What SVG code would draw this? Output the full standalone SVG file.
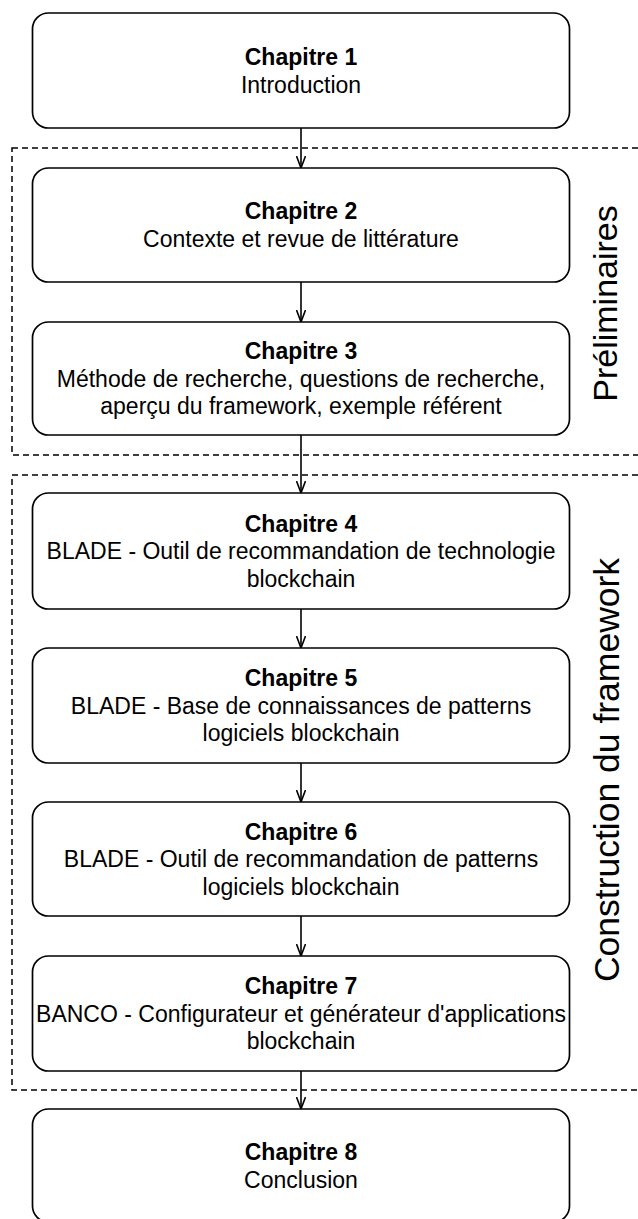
<svg xmlns="http://www.w3.org/2000/svg" width="638" height="1219" viewBox="0 0 638 1219">
<style>
.box{fill:#fff;stroke:#000;stroke-width:1.7}
.grp{fill:none;stroke:#000;stroke-width:1.5;stroke-dasharray:6 4}
.t{font-family:"Liberation Sans",Arial,sans-serif;font-size:23px;text-anchor:middle;fill:#000}
.b{font-weight:bold}
.side{font-family:"Liberation Sans",Arial,sans-serif;font-size:34px;text-anchor:middle;fill:#000}
.edge{fill:none;stroke:#000;stroke-width:1.6;marker-end:url(#arr)}
</style>
<defs>
<marker id="arr" viewBox="0 0 12 10" refX="12" refY="5" markerWidth="12" markerHeight="10" markerUnits="userSpaceOnUse" orient="auto">
<path d="M0,0.5 L12,5 L0,9.5" fill="none" stroke="#000" stroke-width="1.6"/>
</marker>
</defs>
<g id="groups">
<rect id="grp-preliminaires" class="grp" x="12" y="148" width="700" height="307"/>
<rect id="grp-construction" class="grp" x="12" y="475" width="700" height="615"/>
<text class="side" transform="translate(617,303.5) rotate(-90)">Préliminaires</text>
<text class="side" style="font-size:35.5px" transform="translate(619,770) rotate(-90)">Construction du framework</text>
</g>
<g id="ch1"><rect class="box" x="32.5" y="13" width="537" height="115" rx="16"/>
<text class="t b" x="301" y="65">Chapitre 1</text><text class="t" x="301" y="93">Introduction</text></g>
<g id="ch2"><rect class="box" x="32.5" y="168" width="537" height="114" rx="16"/>
<text class="t b" x="301" y="219">Chapitre 2</text><text class="t" x="301" y="247">Contexte et revue de littérature</text></g>
<g id="ch3"><rect class="box" x="32.5" y="322" width="537" height="113" rx="16"/>
<text class="t b" x="301" y="359">Chapitre 3</text><text class="t" x="301" y="386.5">Méthode de recherche, questions de recherche,</text><text class="t" x="301" y="414">aperçu du framework, exemple référent</text></g>
<g id="ch4"><rect class="box" x="32.5" y="493" width="537" height="116" rx="16"/>
<text class="t b" x="301" y="531.5">Chapitre 4</text><text class="t" x="301" y="559">BLADE - Outil de recommandation de technologie</text><text class="t" x="301" y="586.5">blockchain</text></g>
<g id="ch5"><rect class="box" x="32.5" y="648" width="537" height="115" rx="16"/>
<text class="t b" x="301" y="686">Chapitre 5</text><text class="t" x="301" y="713.5">BLADE - Base de connaissances de patterns</text><text class="t" x="301" y="741">logiciels blockchain</text></g>
<g id="ch6"><rect class="box" x="32.5" y="802" width="537" height="114" rx="16"/>
<text class="t b" x="301" y="839.5">Chapitre 6</text><text class="t" x="301" y="867">BLADE - Outil de recommandation de patterns</text><text class="t" x="301" y="894.5">logiciels blockchain</text></g>
<g id="ch7"><rect class="box" x="32.5" y="956" width="537" height="115" rx="16"/>
<text class="t b" x="301" y="994">Chapitre 7</text><text class="t" x="301" y="1021.5">BANCO - Configurateur et générateur d'applications</text><text class="t" x="301" y="1049">blockchain</text></g>
<g id="ch8"><rect class="box" x="32.5" y="1109" width="537" height="113" rx="16"/>
<text class="t b" x="301" y="1160">Chapitre 8</text><text class="t" x="301" y="1188">Conclusion</text></g>
<g id="connectors">
<path class="edge" d="M301,128 V168"/>
<path class="edge" d="M301,282 V322"/>
<path class="edge" d="M301,435 V493"/>
<path class="edge" d="M301,609 V648"/>
<path class="edge" d="M301,763 V802"/>
<path class="edge" d="M301,916 V956"/>
<path class="edge" d="M301,1071 V1109"/>
</g>
</svg>
